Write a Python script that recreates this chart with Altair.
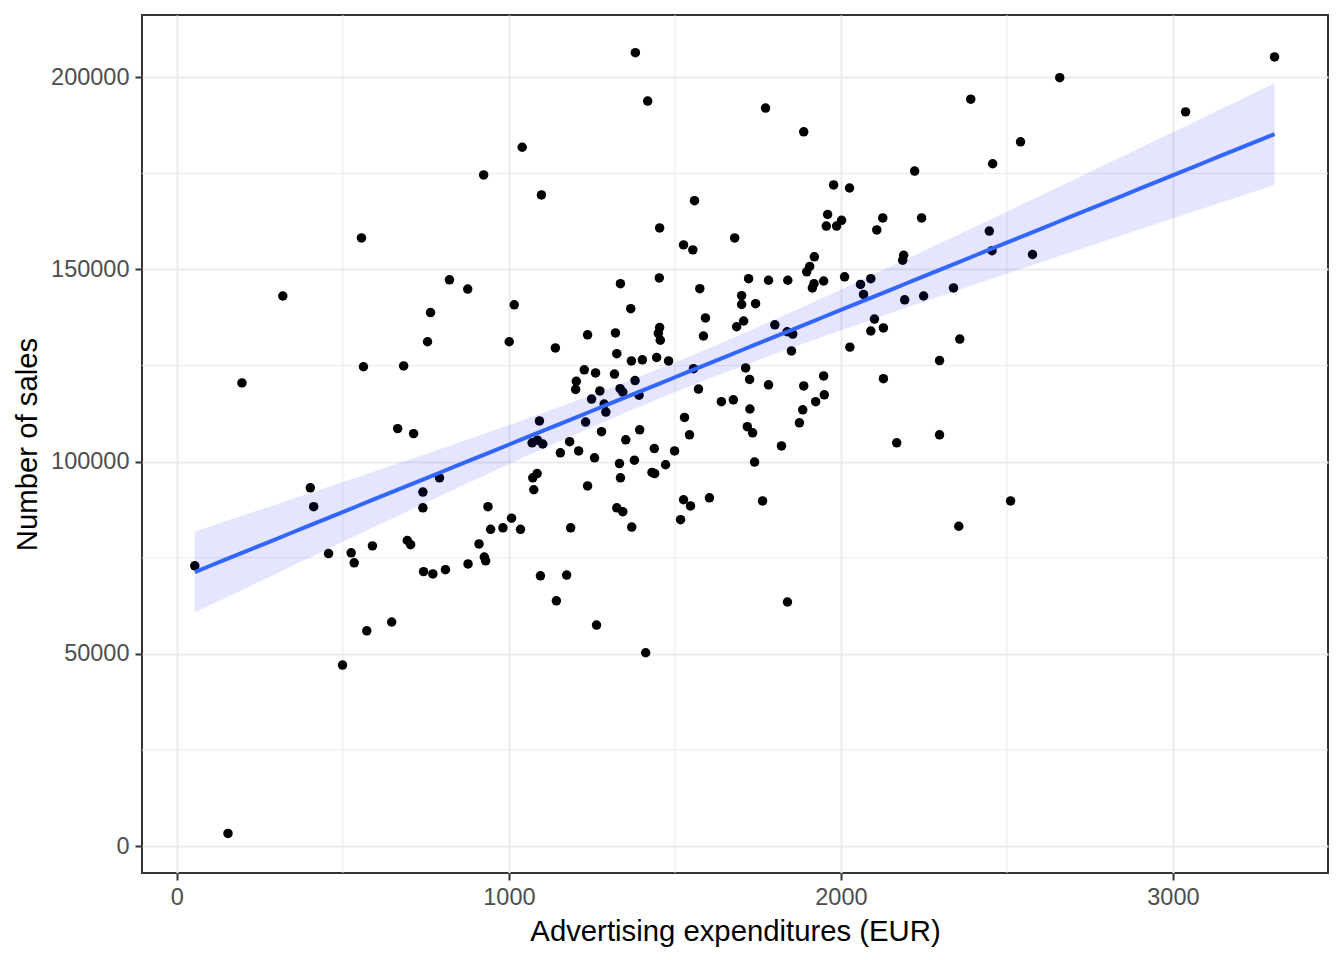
import numpy as np
import pandas as pd
import altair as alt

# Advertising expenditures (EUR)
ad_spend = [54, 154, 196, 319, 402, 412, 457, 499, 525, 534, 556, 562, 572, 589, 647, 665, 683, 694, 704, 713,
            741, 741, 743, 755, 764, 771, 791, 809, 821, 876, 877, 910, 924, 926, 930, 937, 945, 982, 1001, 1008,
            1016, 1035, 1040, 1070, 1075, 1072, 1085, 1086, 1092, 1095, 1098, 1102, 1140, 1143, 1155, 1174, 1183, 1186, 1201, 1203,
            1210, 1227, 1231, 1237, 1237, 1249, 1258, 1261, 1264, 1274, 1279, 1287, 1292, 1318, 1321, 1325, 1325, 1333, 1335, 1336,
            1336, 1343, 1343, 1352, 1367, 1369, 1370, 1378, 1380, 1381, 1392, 1394, 1402, 1412, 1418, 1431, 1438, 1439, 1445, 1450,
            1453, 1454, 1454, 1456, 1472, 1481, 1499, 1517, 1526, 1526, 1529, 1544, 1547, 1554, 1556, 1559, 1571, 1575, 1586, 1592,
            1604, 1640, 1676, 1680, 1686, 1701, 1701, 1707, 1713, 1718, 1722, 1725, 1726, 1734, 1740, 1743, 1764, 1773, 1782, 1782,
            1801, 1821, 1838, 1839, 1840, 1851, 1855, 1875, 1885, 1888, 1888, 1897, 1906, 1914, 1919, 1920, 1924, 1948, 1948, 1950,
            1956, 1960, 1978, 1987, 2002, 2011, 2026, 2027, 2059, 2068, 2090, 2090, 2101, 2108, 2126, 2128, 2128, 2168, 2186, 2189,
            2192, 2222, 2243, 2249, 2297, 2297, 2339, 2355, 2358, 2391, 2447, 2455, 2457, 2511, 2541, 2577, 2659, 3038, 3306]

# Number of sales
sales = [72900, 3300, 120500, 143100, 93200, 88300, 76100, 47100, 76300, 73700, 158200, 124700, 56000, 78100, 58300, 108600, 124900, 79500, 78400, 107300,
         92100, 88000, 71400, 131200, 138800, 70800, 95800, 71900, 147300, 144900, 73400, 78600, 174600, 75200, 74200, 88300, 82400, 82800, 131200, 85300,
         140800, 82400, 181800, 104900, 92700, 95800, 96900, 105600, 110600, 70300, 169400, 104600, 129600, 63800, 102300, 70500, 105200, 82800, 118800, 120900,
         102800, 123900, 110300, 133000, 93700, 116300, 101000, 123100, 57500, 118400, 107800, 115000, 112900, 122800, 133500, 128100, 88000, 99500, 119000, 146300,
         95800, 118100, 87000, 105700, 139800, 126200, 83000, 100400, 121100, 206400, 117300, 108300, 126500, 50300, 193800, 97200, 103400, 96900, 127100, 133400,
         147800, 134900, 160800, 131600, 99200, 126200, 102800, 84900, 156400, 90100, 111500, 107000, 88500, 155100, 124200, 167900, 118900, 145000, 132700, 137400,
         90600, 115600, 116100, 158200, 135100, 143200, 140900, 136600, 124400, 109100, 147600, 121400, 113700, 107500, 99900, 141100, 89800, 192000, 147200, 120000,
         135600, 104100, 133800, 63500, 147200, 128800, 133200, 110100, 113500, 185800, 119700, 149400, 150800, 145200, 146300, 153300, 115600, 147000, 122300, 117400,
         161300, 164300, 172000, 161300, 162800, 148100, 171200, 129800, 146100, 143500, 147600, 134000, 137100, 160300, 163400, 134800, 121600, 104900, 152400, 153700,
         142100, 175600, 163400, 143100, 126300, 107000, 145200, 83200, 131900, 194300, 160000, 154900, 177500, 89800, 183200, 153900, 199900, 191000, 205300]

x_ticks = [0, 1000, 2000, 3000]
x_minor = [500, 1500, 2500]
y_ticks = [0, 50000, 100000, 150000, 200000]
y_minor = [25000, 75000, 125000, 175000]

points = pd.DataFrame({"ad": ad_spend, "sales": sales})

# Linear model with 95% confidence band (like geom_smooth(method = "lm"))
xv = np.asarray(ad_spend, dtype=float)
yv = np.asarray(sales, dtype=float)
n = len(xv)
xbar = xv.mean()
sxx = ((xv - xbar) ** 2).sum()
b1 = ((xv - xbar) * (yv - yv.mean())).sum() / sxx
b0 = yv.mean() - b1 * xbar
resid = yv - (b0 + b1 * xv)
s = np.sqrt((resid ** 2).sum() / (n - 2))
grid = np.linspace(xv.min(), xv.max(), 80)
fit = b0 + b1 * grid
se = s * np.sqrt(1.0 / n + (grid - xbar) ** 2 / sxx)
tq = 1.972
smooth = pd.DataFrame({"ad": grid, "fit": fit, "lo": fit - tq * se, "hi": fit + tq * se})

FONT = "Liberation Sans"
xscale = alt.Scale(domain=[-105, 3467], nice=False, zero=False)
yscale = alt.Scale(domain=[-7000, 216200], nice=False, zero=False)

xaxis = alt.Axis(values=x_ticks, format="d", title="Advertising expenditures (EUR)", grid=True, gridColor="#EBEBEB", gridWidth=2,
                 domain=False, tickColor="#333333", tickSize=7, tickWidth=2, labelPadding=5,
                 labelFont=FONT, labelFontSize=23.5, labelColor="#4D4D4D",
                 titleFont=FONT, titleFontSize=29.3, titleFontWeight="normal", titleColor="black", titlePadding=9)
yaxis = alt.Axis(values=y_ticks, format="d", title="Number of sales", grid=True, gridColor="#EBEBEB", gridWidth=2,
                 domain=False, tickColor="#333333", tickSize=7, tickWidth=2, labelPadding=6,
                 labelFont=FONT, labelFontSize=23.5, labelColor="#4D4D4D",
                 titleFont=FONT, titleFontSize=29.3, titleFontWeight="normal", titleColor="black", titlePadding=8)

minor_x = alt.Chart(pd.DataFrame({"v": x_minor})).mark_rule(color="#EBEBEB", strokeWidth=1).encode(
    x=alt.X("v:Q", scale=xscale, axis=xaxis))
minor_y = alt.Chart(pd.DataFrame({"v": y_minor})).mark_rule(color="#EBEBEB", strokeWidth=1).encode(
    y=alt.Y("v:Q", scale=yscale, axis=yaxis))

pts = alt.Chart(points).mark_circle(color="black", opacity=1, size=90).encode(
    x=alt.X("ad:Q", scale=xscale, axis=xaxis),
    y=alt.Y("sales:Q", scale=yscale, axis=yaxis),
)

band = alt.Chart(smooth).mark_area(color="#0000FF", opacity=0.1).encode(
    x=alt.X("ad:Q", scale=xscale, axis=xaxis),
    y=alt.Y("lo:Q", scale=yscale, axis=yaxis),
    y2="hi:Q",
)

line = alt.Chart(smooth).mark_line(color="#3366FF", strokeWidth=4).encode(
    x=alt.X("ad:Q", scale=xscale, axis=xaxis),
    y=alt.Y("fit:Q", scale=yscale, axis=yaxis),
)

chart = alt.layer(minor_x, minor_y, pts, band, line).properties(
    width=1186, height=858,
    background="white",
    padding={"left": 142, "top": 15, "right": 16, "bottom": 87},
    autosize=alt.AutoSizeParams(type="none"),
).configure_view(stroke="#333333", strokeWidth=2)

chart.save("out.html", embed_options={"renderer": "svg", "actions": False})
